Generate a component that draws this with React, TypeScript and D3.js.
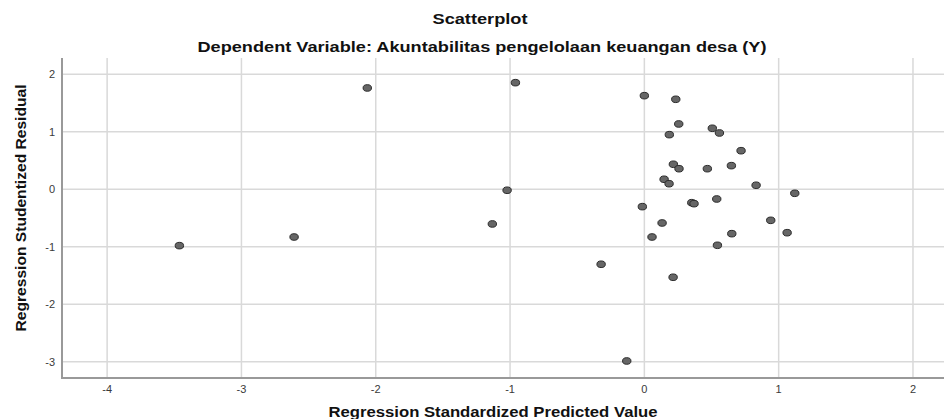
import React from 'react';
import * as d3 from 'd3';

// Regression standardized predicted value (x) and studentized residual (y)
const predicted = [
  -3.462, -2.608, -2.063, -0.96, -1.022, -1.132, 0.0, 0.234, 0.256, 0.186, 0.506, 0.559,
  0.72, 0.216, 0.258, 0.469, 0.648, 0.147, 0.184, 0.832, 1.12, -0.015, 0.353, 0.37,
  0.539, 0.132, 0.941, 0.057, 0.651, 1.063, 0.544, -0.322, 0.214, -0.131,
];
const residual = [
  -0.98, -0.83, 1.762, 1.854, -0.017, -0.603, 1.628, 1.565, 1.136, 0.95, 1.061, 0.979,
  0.671, 0.435, 0.358, 0.358, 0.411, 0.174, 0.097, 0.07, -0.07, -0.302, -0.233, -0.25,
  -0.169, -0.586, -0.54, -0.83, -0.772, -0.755, -0.974, -1.304, -1.53, -2.986,
];
const xTicks = [-4, -3, -2, -1, 0, 1, 2];
const yTicks = [-3, -2, -1, 0, 1, 2];

const title = 'Scatterplot';
const subtitle = 'Dependent Variable: Akuntabilitas pengelolaan keuangan desa (Y)';
const xLabel = 'Regression Standardized Predicted Value';
const yLabel = 'Regression Studentized Residual';

const App = () => {
  const width = 944;
  const height = 419;
  const margin = { top: 58, right: 0, bottom: 41, left: 62 };

  const x = d3.scaleLinear().domain([-4.336, 2.231]).range([margin.left, width - margin.right]);
  const y = d3.scaleLinear().domain([-3.282, 2.283]).range([height - margin.bottom, margin.top]);

  const font = '"Liberation Sans", Arial, sans-serif';
  const points = d3.zip(predicted, residual);

  return (
    <svg
      width={width}
      height={height}
      style={{ position: 'absolute', left: 0, top: 0, background: '#fff' }}
      fontFamily={font}
    >
      {/* titles */}
      <text x={480} y={24} textAnchor="middle" fontSize={14} fontWeight="bold" fill="#111"
        textLength={95} lengthAdjust="spacingAndGlyphs">{title}</text>
      <text x={482} y={52} textAnchor="middle" fontSize={14.5} fontWeight="bold" fill="#111"
        textLength={569} lengthAdjust="spacingAndGlyphs">{subtitle}</text>

      {/* gridlines */}
      <g stroke="#d9d9d9" strokeWidth={1.5}>
        {xTicks.map(t => (
          <line key={'gx' + t} x1={x(t)} x2={x(t)} y1={y.range()[1]} y2={y.range()[0]} />
        ))}
        {yTicks.map(t => (
          <line key={'gy' + t} x1={x.range()[0]} x2={x.range()[1]} y1={y(t)} y2={y(t)} />
        ))}
      </g>

      {/* axes */}
      <g stroke="#999" strokeWidth={2}>
        <line x1={x.range()[0]} x2={x.range()[0]} y1={y.range()[1]} y2={y.range()[0]} />
        <line x1={x.range()[0] - 1} x2={x.range()[1]} y1={y.range()[0]} y2={y.range()[0]} />
      </g>

      {/* tick labels */}
      <g fontSize={11} fill="#3a3a3a">
        {xTicks.map(t => (
          <text key={'tx' + t} x={x(t)} y={393} textAnchor="middle">{t}</text>
        ))}
        {yTicks.map(t => (
          <text key={'ty' + t} x={55} y={y(t) + 4} textAnchor="end">{t}</text>
        ))}
      </g>

      {/* axis titles */}
      <text x={493} y={417} textAnchor="middle" fontSize={14} fontWeight="bold" fill="#111"
        textLength={329} lengthAdjust="spacingAndGlyphs">{xLabel}</text>
      <text transform={`translate(26,${208}) rotate(-90)`} textAnchor="middle" fontSize={14}
        fontWeight="bold" fill="#111" textLength={247} lengthAdjust="spacingAndGlyphs">{yLabel}</text>

      {/* points */}
      <g fill="#666" stroke="#2b2b2b" strokeWidth={1}>
        {points.map(([px, py], i) => (
          <ellipse key={i} cx={x(px)} cy={y(py)} rx={4.2} ry={3.3} />
        ))}
      </g>
    </svg>
  );
};

export default App;
